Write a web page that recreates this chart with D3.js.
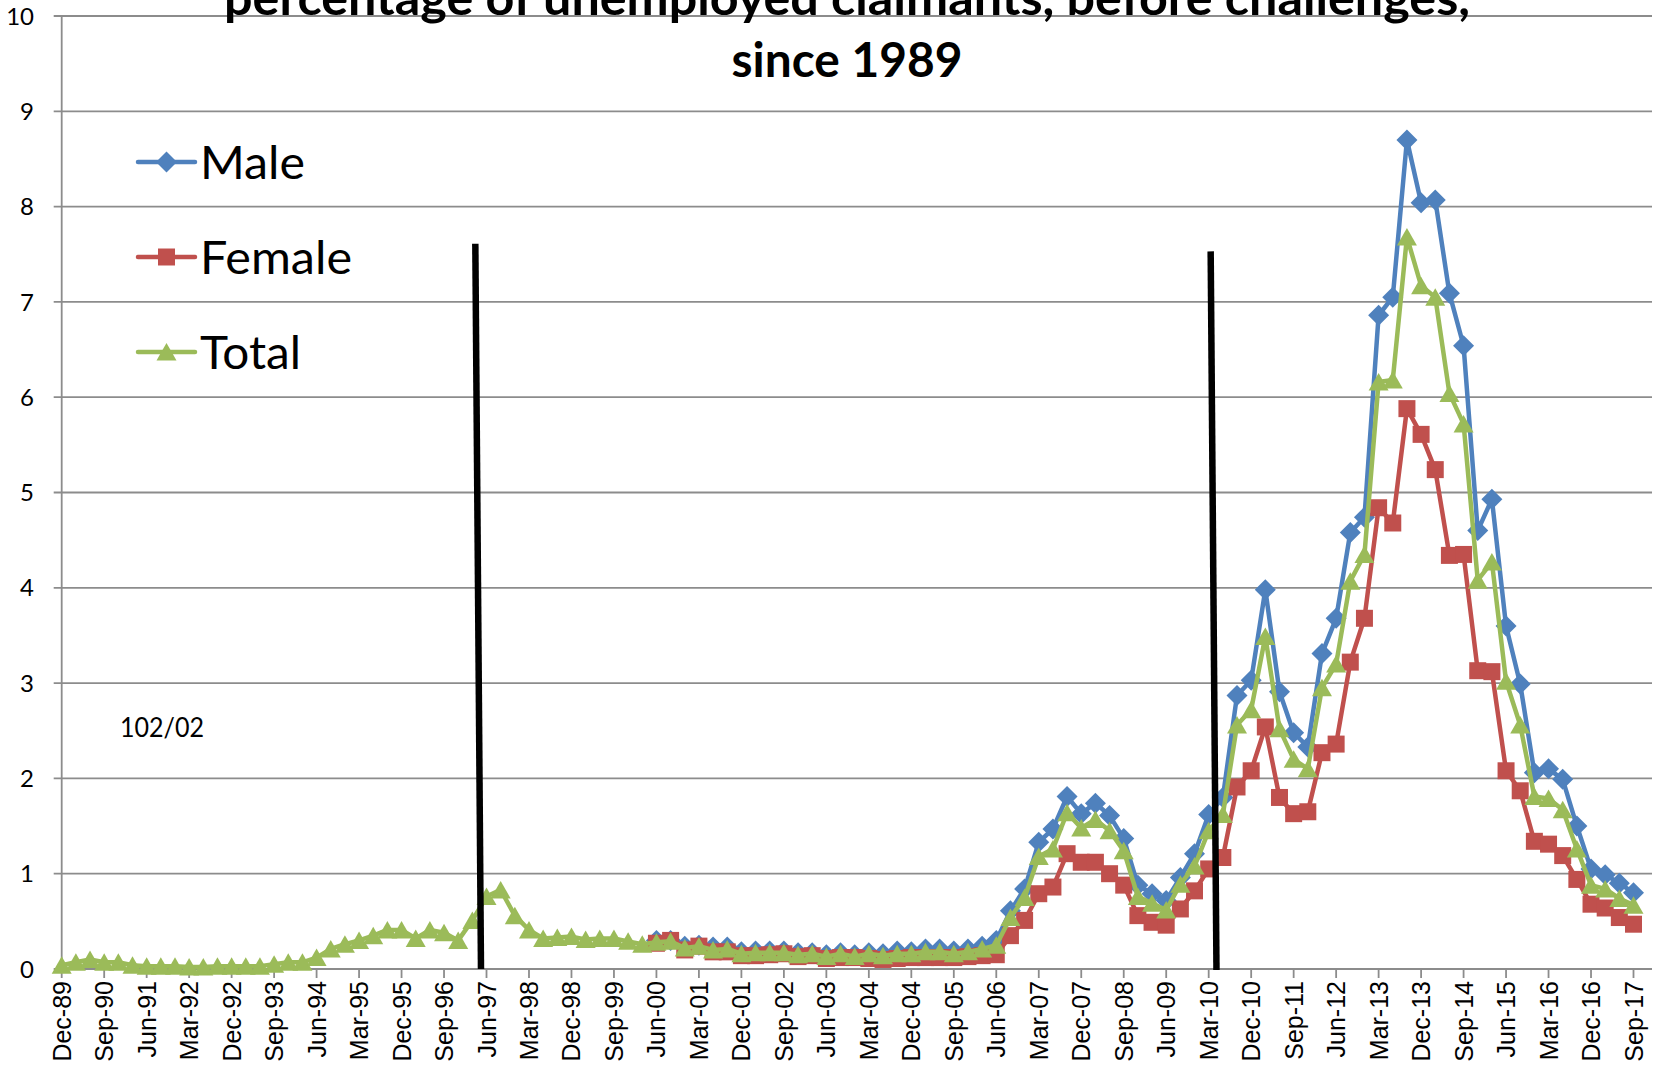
<!DOCTYPE html>
<html>
<head>
<meta charset="utf-8">
<script src="https://cdn.jsdelivr.net/npm/d3@7"></script>
<style>
  html, body { margin: 0; padding: 0; background: #ffffff; }
  svg { display: block; }
</style>
</head>
<body>
<script>
// Claimants as a percentage of unemployed, quarterly from Dec-89 to Sep-17.
const firstQuarter = new Date(1989, 11, 1);
const quarterCount = 112;

const tickLabels = ["Dec-89","Sep-90","Jun-91","Mar-92","Dec-92","Sep-93","Jun-94","Mar-95",
  "Dec-95","Sep-96","Jun-97","Mar-98","Dec-98","Sep-99","Jun-00","Mar-01","Dec-01","Sep-02",
  "Jun-03","Mar-04","Dec-04","Sep-05","Jun-06","Mar-07","Dec-07","Sep-08","Jun-09","Mar-10",
  "Dec-10","Sep-11","Jun-12","Mar-13","Dec-13","Sep-14","Jun-15","Mar-16","Dec-16","Sep-17"];

const yTicks = [0, 1, 2, 3, 4, 5, 6, 7, 8, 9, 10];

// Total: every quarter from Dec-89
const totalValues = [
  0.04, 0.07, 0.10, 0.07, 0.07, 0.04, 0.03, 0.03, 0.03, 0.02,
  0.02, 0.03, 0.03, 0.03, 0.03, 0.05, 0.07, 0.07, 0.12, 0.21,
  0.26, 0.30, 0.35, 0.41, 0.41, 0.32, 0.41, 0.38, 0.30, 0.51,
  0.76, 0.83, 0.56, 0.41, 0.32, 0.33, 0.34, 0.31, 0.32, 0.32,
  0.29, 0.26,
  0.28, 0.29, 0.22, 0.24, 0.20, 0.21, 0.16, 0.17, 0.17, 0.17,
  0.15, 0.16, 0.13, 0.16, 0.13, 0.16, 0.14, 0.16, 0.16, 0.18,
  0.18, 0.16, 0.18, 0.21, 0.25,
  0.54, 0.75, 1.18, 1.26, 1.64, 1.48, 1.57, 1.45, 1.24, 0.76,
  0.69, 0.62, 0.89, 1.08, 1.45, 1.62, 2.56, 2.72, 3.49, 2.52,
  2.20, 2.10, 2.95, 3.20, 4.07, 4.35, 6.16, 6.18, 7.68, 7.17,
  7.05, 6.04, 5.72, 4.08, 4.27, 3.02, 2.56, 1.81, 1.79, 1.67,
  1.26, 0.88, 0.84, 0.74, 0.67
];

// Male and female series are available from Jun-00 onwards
const genderStart = "Jun-00";

const maleValues = [
  0.30, 0.30, 0.24, 0.25, 0.23, 0.23, 0.18, 0.19, 0.19, 0.19,
  0.17, 0.17, 0.15, 0.17, 0.15, 0.17, 0.16, 0.19, 0.18, 0.21,
  0.21, 0.19, 0.21, 0.24, 0.30,
  0.61, 0.84, 1.33, 1.47, 1.81, 1.63, 1.74, 1.61, 1.37, 0.88,
  0.79, 0.72, 0.96, 1.21, 1.62, 1.80, 2.87, 3.03, 3.98, 2.91,
  2.48, 2.33, 3.31, 3.68, 4.58, 4.74, 6.86, 7.05, 8.70, 8.04,
  8.07, 7.09, 6.54, 4.60, 4.93, 3.60, 2.99, 2.06, 2.10, 1.99,
  1.50, 1.05, 0.99, 0.90, 0.80
];

const femaleValues = [
  0.27, 0.30, 0.20, 0.24, 0.18, 0.18, 0.14, 0.14, 0.15, 0.16,
  0.13, 0.14, 0.11, 0.12, 0.12, 0.11, 0.10, 0.11, 0.12, 0.12,
  0.12, 0.12, 0.13, 0.14, 0.15,
  0.35, 0.51, 0.79, 0.86, 1.21, 1.12, 1.12, 1.00, 0.88, 0.56,
  0.49, 0.46, 0.63, 0.82, 1.05, 1.17, 1.91, 2.08, 2.54, 1.80,
  1.63, 1.65, 2.27, 2.36, 3.22, 3.68, 4.84, 4.68, 5.88, 5.61,
  5.24, 4.34, 4.35, 3.13, 3.12, 2.08, 1.87, 1.34, 1.31, 1.19,
  0.94, 0.68, 0.64, 0.54, 0.47
];

const seriesNames = ["Male", "Female", "Total"];
const seriesColors = ["#4F81BD", "#C0504D", "#9BBB59"];
const seriesMarkers = ["diamond", "square", "triangle"];

const titleLines = ["percentage of unemployed claimants, before challenges,", "since 1989"];
const noteText = "102/02";

// Hand-drawn divider strokes, in (quarter index, value) coordinates
const dividerTops = [[29.21, 7.61], [81.14, 7.53]];
const dividerBottoms = [[29.61, 0], [81.55, -0.01]];

// ---------------------------------------------------------------------------
const W = 1660, H = 1067;
const plotLeft = 61.7, lastPointX = 1633.5, plotRight = 1652;
const plotTop = 16, plotBottom = 969;

const fmt = d3.timeFormat("%b-%y");
const quarterLabels = d3.range(quarterCount).map(i => fmt(d3.timeMonth.offset(firstQuarter, 3 * i)));
const genderIndex = quarterLabels.indexOf(genderStart);

const x = d3.scaleLinear().domain([0, quarterCount - 1]).range([plotLeft, lastPointX]);
const y = d3.scaleLinear().domain([0, 10]).range([plotBottom, plotTop]);

const series = [
  maleValues.map((v, k) => ({ i: genderIndex + k, v })),
  femaleValues.map((v, k) => ({ i: genderIndex + k, v })),
  totalValues.map((v, k) => ({ i: k, v }))
];

const svg = d3.select("body").append("svg")
  .attr("width", W).attr("height", H)
  .attr("viewBox", `0 0 ${W} ${H}`);

svg.append("rect").attr("width", W).attr("height", H).attr("fill", "#ffffff");

const gridColor = "#8c8c8c";

// horizontal gridlines with short ticks to the left of the value axis
svg.append("g").selectAll("line").data(yTicks.filter(t => t > 0)).join("line")
  .attr("x1", plotLeft - 8).attr("x2", plotRight)
  .attr("y1", d => y(d)).attr("y2", d => y(d))
  .attr("stroke", gridColor).attr("stroke-width", 1.8);

// value axis
svg.append("line")
  .attr("x1", plotLeft).attr("x2", plotLeft)
  .attr("y1", y(0)).attr("y2", y(10))
  .attr("stroke", gridColor).attr("stroke-width", 1.8);

svg.append("g").selectAll("text").data(yTicks).join("text")
  .attr("x", 34).attr("y", d => y(d))
  .attr("dy", "0.36em")
  .attr("text-anchor", "end")
  .attr("font-family", "Lato, 'Open Sans', sans-serif")
  .attr("font-size", 24)
  .attr("fill", "#000")
  .text(d => d);

// category axis
const tickIdx = tickLabels.map(l => quarterLabels.indexOf(l));
svg.append("line")
  .attr("x1", plotLeft - 8).attr("x2", plotRight)
  .attr("y1", y(0)).attr("y2", y(0))
  .attr("stroke", gridColor).attr("stroke-width", 1.8);

svg.append("g").selectAll("line").data(tickIdx).join("line")
  .attr("x1", d => x(d)).attr("x2", d => x(d))
  .attr("y1", y(0)).attr("y2", y(0) + 9)
  .attr("stroke", gridColor).attr("stroke-width", 1.8);

svg.append("g").selectAll("text").data(tickLabels).join("text")
  .attr("transform", (d, k) => `translate(${x(tickIdx[k])},${y(0) + 12}) rotate(-90)`)
  .attr("dy", "0.36em")
  .attr("text-anchor", "end")
  .attr("font-family", "'Liberation Sans', Arial, sans-serif")
  .attr("font-size", 25)
  .attr("fill", "#000")
  .text(d => d);

// marker shapes
function markerPath(kind) {
  if (kind === "diamond") return "M0,-10.5L10.5,0L0,10.5L-10.5,0Z";
  if (kind === "square") return "M-8.5,-8.5H8.5V8.5H-8.5Z";
  return "M0,-9L10,8.5L-10,8.5Z";
}

const line = d3.line().x(d => x(d.i)).y(d => y(d.v));

series.forEach((data, s) => {
  const g = svg.append("g");
  g.append("path").datum(data)
    .attr("d", line)
    .attr("fill", "none")
    .attr("stroke", seriesColors[s])
    .attr("stroke-width", 4.5)
    .attr("stroke-linejoin", "round")
    .attr("stroke-linecap", "round");
  g.selectAll("path.m").data(data).join("path")
    .attr("class", "m")
    .attr("transform", d => `translate(${x(d.i)},${y(d.v)})`)
    .attr("d", markerPath(seriesMarkers[s]))
    .attr("fill", seriesColors[s]);
});

// divider strokes
svg.append("g").selectAll("line").data(dividerTops).join("line")
  .attr("x1", d => x(d[0])).attr("y1", d => y(d[1]))
  .attr("x2", (d, k) => x(dividerBottoms[k][0])).attr("y2", (d, k) => y(dividerBottoms[k][1]))
  .attr("stroke", "#000").attr("stroke-width", 6.5);

// legend
const legendRowY = [162, 257, 352];
const legend = svg.append("g").selectAll("g").data(seriesNames).join("g")
  .attr("transform", (d, k) => `translate(0,${legendRowY[k]})`);
legend.append("line")
  .attr("x1", 138).attr("x2", 195).attr("y1", 0).attr("y2", 0)
  .attr("stroke", (d, k) => seriesColors[k])
  .attr("stroke-width", 4.5).attr("stroke-linecap", "round");
legend.append("path")
  .attr("transform", "translate(166.5,0)")
  .attr("d", (d, k) => markerPath(seriesMarkers[k]))
  .attr("fill", (d, k) => seriesColors[k]);
const legendWidths = { Male: 105, Female: 152, Total: 101 };
legend.append("text")
  .attr("x", 200).attr("y", 16.5)
  .attr("font-family", "Lato, 'Open Sans', sans-serif")
  .attr("font-size", 47)
  .attr("fill", "#000")
  .attr("textLength", d => legendWidths[d])
  .attr("lengthAdjust", "spacingAndGlyphs")
  .text(d => d);

// note
svg.append("text")
  .attr("x", 120).attr("y", 737)
  .attr("font-family", "Lato, 'Open Sans', sans-serif")
  .attr("font-size", 26)
  .attr("fill", "#000")
  .attr("textLength", 84)
  .attr("lengthAdjust", "spacingAndGlyphs")
  .text(noteText);

// title (first line runs off the top edge of the canvas)
const titleBaselines = [15, 77];
const titleWidths = [1246, 231];
svg.append("g").selectAll("text").data(titleLines).join("text")
  .attr("x", 847).attr("y", (d, k) => titleBaselines[k])
  .attr("text-anchor", "middle")
  .attr("font-family", "Lato, 'Open Sans', sans-serif")
  .attr("font-weight", 700)
  .attr("font-size", 47)
  .attr("fill", "#000")
  .attr("textLength", (d, k) => titleWidths[k])
  .attr("lengthAdjust", "spacingAndGlyphs")
  .text(d => d);
</script>
</body>
</html>
